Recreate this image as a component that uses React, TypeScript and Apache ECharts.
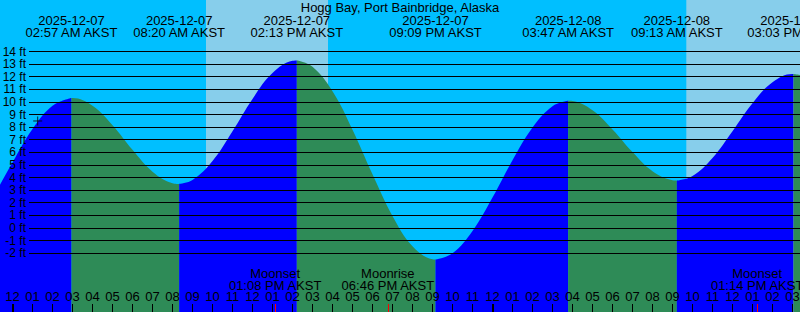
import React, { useEffect, useRef } from "react";
import * as echarts from "echarts";

// Hours counted from midnight 2025-12-07 AKST
const titleText = "Hogg Bay, Port Bainbridge, Alaska";

const extremeHours = [2.95, 8.333, 14.217, 21.15, 27.783, 33.217, 39.05];
const extremeFeet = [10.33, 3.5, 13.3, -2.5, 10.1, 3.76, 12.23];
const extremeDates = ["2025-12-07", "2025-12-07", "2025-12-07", "2025-12-07", "2025-12-08", "2025-12-08", "2025-12-08"];
const extremeTimes = ["02:57 AM AKST", "08:20 AM AKST", "02:13 PM AKST", "09:09 PM AKST", "03:47 AM AKST", "09:13 AM AKST", "03:03 PM AKST"];

const readingHours = [-1, 0, 1, 2, 3, 4, 5, 6, 7, 8, 9, 10, 11, 12, 13, 14, 15, 16, 17, 18, 19, 20, 21, 22, 23, 24, 25, 26, 27, 28, 29, 30, 31, 32, 33, 34, 35, 36, 37, 38, 39, 40];
const readingFeet = [2.37, 5.2, 7.86, 9.71, 10.33, 9.71, 8.16, 6.21, 4.48, 3.56, 3.81, 5.32, 7.68, 10.25, 12.3, 13.27, 12.81, 10.86, 7.81, 4.27, 0.96, -1.45, -2.48, -2.0, -0.23, 2.42, 5.38, 7.98, 9.67, 10.08, 9.35, 7.83, 6.03, 4.51, 3.79, 4.13, 5.57, 7.69, 9.9, 11.57, 12.23, 12.0];

const daylightStart = [9.675, 33.69];
const daylightEnd = [15.775, 40];

const moonHours = [13.133, 18.767, 37.233];
const moonEvents = ["Moonset", "Moonrise", "Moonset"];
const moonTimes = ["01:08 PM AKST", "06:46 PM AKST", "01:14 PM AKST"];

const hourTicks = Array.from({ length: 40 }, (_, i) => i);
const midnightHours = [0, 24];
const footTicks = [-2, 14];

const nowHour = 1.26;
const nowFeet = 8.5;

const X_MIN = -0.625;
const X_MAX = 39.375;
const Y_MIN = -6.66;
const Y_MAX = 18.1;

const FONT = "Liberation Sans";
const RISING = "#0000FF";
const FALLING = "#2E8B57";
const NIGHT = "#00BFFF";
const DAY = "#87CEEB";

function buildSegments() {
  const pts: [number, number][] = [];
  readingHours.forEach((h, i) => pts.push([h, readingFeet[i]]));
  extremeHours.forEach((h, i) => pts.push([h, extremeFeet[i]]));
  pts.sort((a, b) => a[0] - b[0]);
  const bounds = [-Infinity, ...extremeHours, Infinity];
  const segs: { data: [number, number][]; rising: boolean }[] = [];
  for (let s = 0; s < bounds.length - 1; s++) {
    const lo = bounds[s];
    const hi = bounds[s + 1];
    const data = pts.filter((p) => p[0] >= lo - 1e-9 && p[0] <= hi + 1e-9);
    segs.push({ data, rising: s % 2 === 0 });
  }
  return segs;
}

function pad2(n: number) {
  return n < 10 ? "0" + n : "" + n;
}

function nearestIndex(arr: number[], v: number) {
  let best = 0;
  arr.forEach((a, i) => {
    if (Math.abs(a - v) < Math.abs(arr[best] - v)) best = i;
  });
  return best;
}

export default function App() {
  const ref = useRef<HTMLDivElement>(null);
  useEffect(() => {
    document.body.style.margin = "0";
    document.body.style.overflow = "hidden";
    if (!ref.current) return;
    const chart = echarts.init(ref.current, null, { renderer: "svg" });
    const segs = buildSegments();
    const fullGrid = { left: 0, right: 0, top: 0, bottom: 0, containLabel: false, outerBoundsMode: "none" };
    const noZeroLine = { show: false, onZero: false };
    const option: any = {
      animation: false,
      backgroundColor: NIGHT,
      textStyle: { fontFamily: FONT },
      title: {
        text: titleText,
        left: "center",
        top: 0,
        padding: [1, 0, 0, 0],
        textStyle: { fontFamily: FONT, fontSize: 13, fontWeight: "normal", color: "#000", lineHeight: 13 },
      },
      grid: [
        { ...fullGrid },
        { left: 29, right: 0, top: 51.5, height: 201.6, containLabel: false, outerBoundsMode: "none" },
        { ...fullGrid },
        { ...fullGrid },
      ],
      xAxis: [
        {
          gridIndex: 0,
          type: "value",
          min: X_MIN,
          max: X_MAX,
          position: "bottom",
          z: 5,
          splitLine: { show: false },
          axisLine: noZeroLine,
          axisTick: { show: true, inside: true, length: 8, customValues: hourTicks, lineStyle: { color: "#000", width: 1 } },
          axisLabel: {
            show: true,
            inside: true,
            margin: 9,
            customValues: hourTicks,
            hideOverlap: false,
            color: "#000",
            fontFamily: FONT,
            fontSize: 13,
            lineHeight: 13,
            formatter: (v: number) => {
              const h = ((Math.round(v) % 12) + 12) % 12;
              return pad2(h === 0 ? 12 : h);
            },
          },
        },
        {
          gridIndex: 0,
          type: "value",
          min: X_MIN,
          max: X_MAX,
          position: "top",
          z: 5,
          splitLine: { show: false },
          axisLine: noZeroLine,
          axisTick: { show: false },
          axisLabel: {
            show: true,
            inside: true,
            margin: 14,
            customValues: extremeHours,
            hideOverlap: false,
            color: "#000",
            fontFamily: FONT,
            fontSize: 13,
            lineHeight: 12.4,
            align: "center",
            formatter: (v: number) => {
              const i = nearestIndex(extremeHours, v);
              return extremeDates[i] + "\n" + extremeTimes[i];
            },
          },
        },
        {
          gridIndex: 1,
          type: "value",
          min: X_MIN,
          max: X_MAX,
          show: false,
        },
        {
          gridIndex: 2,
          type: "value",
          min: X_MIN,
          max: X_MAX,
          position: "bottom",
          z: 6,
          splitLine: { show: false },
          axisLine: noZeroLine,
          axisTick: { show: true, inside: true, length: 8, customValues: moonHours, lineStyle: { color: "#FF0000", width: 1 } },
          axisLabel: {
            show: true,
            inside: true,
            margin: 20,
            customValues: moonHours,
            hideOverlap: false,
            color: "#000",
            fontFamily: FONT,
            fontSize: 13,
            lineHeight: 12.4,
            align: "center",
            formatter: (v: number) => {
              const i = nearestIndex(moonHours, v);
              return moonEvents[i] + "\n" + moonTimes[i];
            },
          },
        },
        {
          gridIndex: 3,
          type: "value",
          min: X_MIN,
          max: X_MAX,
          position: "bottom",
          z: 6,
          splitLine: { show: false },
          axisLine: noZeroLine,
          axisTick: { show: true, inside: true, length: 8, customValues: midnightHours, lineStyle: { color: "#000", width: 2 } },
          axisLabel: { show: false },
        },
      ],
      yAxis: [
        { gridIndex: 0, type: "value", min: Y_MIN, max: Y_MAX, show: false },
        {
          gridIndex: 1,
          type: "value",
          min: footTicks[0],
          max: footTicks[1],
          interval: 1,
          z: 5,
          axisLine: noZeroLine,
          axisTick: { show: false },
          splitLine: { show: true, lineStyle: { color: "#000", width: 1 } },
          axisLabel: {
            show: true,
            margin: 3,
            showMinLabel: true,
            showMaxLabel: true,
            hideOverlap: false,
            color: "#000",
            fontFamily: FONT,
            fontSize: 12,
            formatter: (v: number) => v + " ft",
          },
        },
        { gridIndex: 2, type: "value", min: Y_MIN, max: Y_MAX, show: false },
        { gridIndex: 3, type: "value", min: Y_MIN, max: Y_MAX, show: false },
      ],
      series: [
        {
          type: "line",
          xAxisIndex: 0,
          yAxisIndex: 0,
          data: [],
          silent: true,
          z: 1,
          markArea: {
            silent: true,
            itemStyle: { color: DAY, opacity: 1 },
            data: daylightStart.map((s, i) => [{ xAxis: s }, { xAxis: daylightEnd[i] }]),
          },
        },
        ...segs.map((seg) => ({
          type: "line",
          xAxisIndex: 0,
          yAxisIndex: 0,
          data: seg.data,
          smooth: 0.4,
          showSymbol: false,
          silent: true,
          z: 2,
          lineStyle: { width: 0, color: seg.rising ? RISING : FALLING },
          areaStyle: { color: seg.rising ? RISING : FALLING, opacity: 1, origin: "start" },
        })),
        {
          type: "scatter",
          xAxisIndex: 0,
          yAxisIndex: 0,
          data: [[nowHour, nowFeet]],
          symbol: "path://M5,0L5,10M0,5L10,5",
          symbolSize: 9,
          silent: true,
          z: 7,
          itemStyle: { color: "none", borderColor: "#000", borderWidth: 1 },
        },
      ],
    };
    chart.setOption(option);
    return () => chart.dispose();
  }, []);
  return <div ref={ref} style={{ width: 800, height: 312 }} />;
}
